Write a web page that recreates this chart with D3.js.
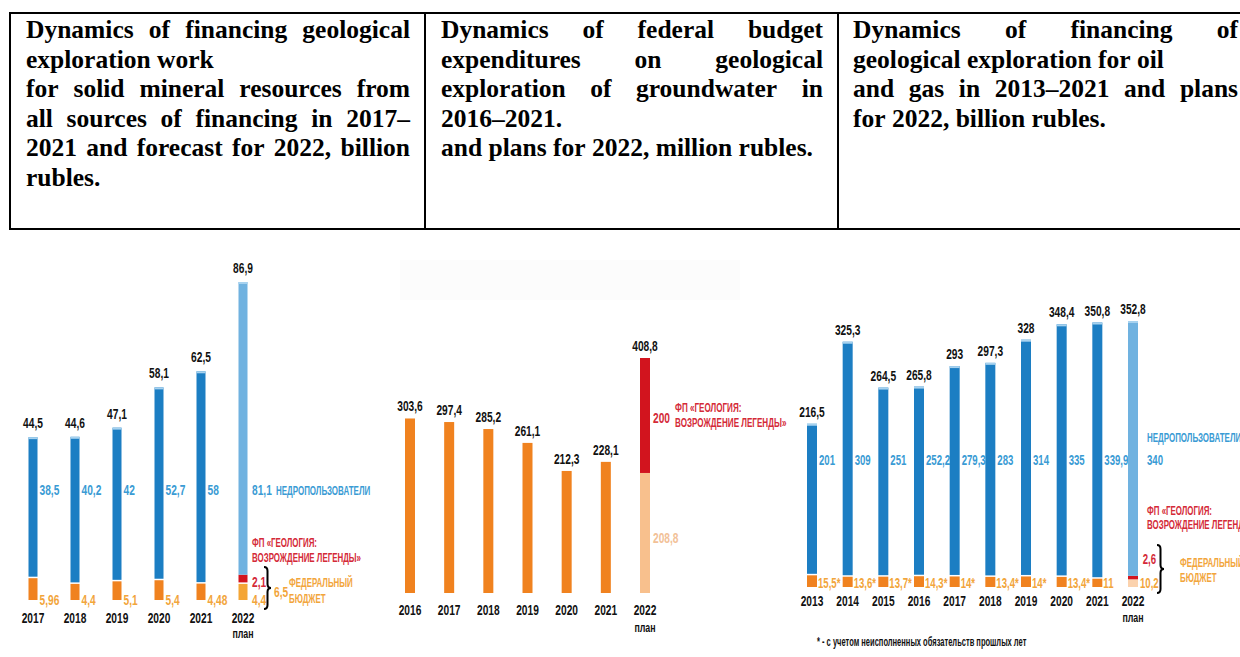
<!DOCTYPE html>
<html><head><meta charset="utf-8">
<script src="https://cdn.jsdelivr.net/npm/d3@7"></script>
<style>
html,body{margin:0;padding:0;background:#fff;}
svg{display:block;}
</style></head>
<body>
<svg id="c" width="1240" height="657"></svg>
<script>
// ---------- DATA ----------
const headerCol1 = ["Dynamics of financing geological","exploration work","for solid mineral resources from","all sources of financing in 2017–","2021 and forecast for 2022, billion","rubles."];
const headerCol2 = ["Dynamics of federal budget","expenditures on geological","exploration of groundwater in","2016–2021.","and plans for 2022, million rubles."];
const headerCol3 = ["Dynamics of financing of","geological exploration for oil","and gas in 2013–2021 and plans","for 2022, billion rubles."];

// Chart 1: solid minerals, billion rubles
const c1Years   = ["2017","2018","2019","2020","2021","2022"];
const c1Users   = [38.5, 40.2, 42, 52.7, 58, 81.1];
const c1Budget  = [5.96, 4.4, 5.1, 5.4, 4.48, 4.4];
const c1FP      = [0, 0, 0, 0, 0, 2.1];
const c1Total   = [44.5, 44.6, 47.1, 58.1, 62.5, 86.9];
const c1UsersLbl  = ["38,5","40,2","42","52,7","58","81,1"];
const c1BudgetLbl = ["5,96","4,4","5,1","5,4","4,48","4,4"];
const c1TotalLbl  = ["44,5","44,6","47,1","58,1","62,5","86,9"];

// Chart 2: groundwater, million rubles
const c2Years  = ["2016","2017","2018","2019","2020","2021","2022"];
const c2Budget = [303.6, 297.4, 285.2, 261.1, 212.3, 228.1, 208.8];
const c2FP     = [0, 0, 0, 0, 0, 0, 200];
const c2Total  = [303.6, 297.4, 285.2, 261.1, 212.3, 228.1, 408.8];
const c2TotalLbl = ["303,6","297,4","285,2","261,1","212,3","228,1","408,8"];
const c2BudgetPlanLbl = "208,8";

// Chart 3: oil and gas, billion rubles
const c3Years  = ["2013","2014","2015","2016","2017","2018","2019","2020","2021","2022"];
const c3Users  = [201, 309, 251, 252.2, 279.3, 283, 314, 335, 339.9, 340];
const c3Budget = [15.5, 13.6, 13.7, 14.3, 14, 13.4, 14, 13.4, 11, 10.2];
const c3FP     = [0, 0, 0, 0, 0, 0, 0, 0, 0, 2.6];
const c3Total  = [216.5, 325.3, 264.5, 265.8, 293, 297.3, 328, 348.4, 350.8, 352.8];
const c3UsersLbl  = ["201","309","251","252,2","279,3","283","314","335","339,9","340"];
const c3BudgetLbl = ["15,5*","13,6*","13,7*","14,3*","14*","13,4*","14*","13,4*","11","10,2"];
const c3TotalLbl  = ["216,5","325,3","264,5","265,8","293","297,3","328","348,4","350,8","352,8"];

const lblUsers = "НЕДРОПОЛЬЗОВАТЕЛИ";
const lblFP1 = "ФП «ГЕОЛОГИЯ:";
const lblFP2 = "ВОЗРОЖДЕНИЕ ЛЕГЕНДЫ»";
const lblFed1 = "ФЕДЕРАЛЬНЫЙ";
const lblFed2 = "БЮДЖЕТ";
const lblPlan = "план";
const lblFedSum1 = "6,5";
const lblFP1val = "2,1", lblFP2val = "200", lblFP3val = "2,6";
const footnote = "* - с учетом неисполненных обязательств прошлых лет";

// ---------- STYLE ----------
const SANS = "'Liberation Sans',Arial,sans-serif";
const SERIF = "'Liberation Serif','Times New Roman',serif";
const C = {
  blue:"#1c7ec3", blueLight:"#70b2e0", blueCap:"#a7d2ef",
  orange:"#f0821f", orange1y:"#f4a535", red:"#d2141e",
  peach:"#f8c08d", peachLight:"#fbd2ad",
  tBlue:"#3a9bd4", tOrange:"#f2a53b", tRed:"#d42a38", tPeach:"#f2c197", black:"#111"
};

const svg = d3.select("#c");

// ---------- HEADER TABLE ----------
const tbl = svg.append("g");
tbl.append("line").attr("x1",10).attr("x2",1240).attr("y1",13).attr("y2",13).attr("stroke","#000").attr("stroke-width",2);
tbl.append("line").attr("x1",10).attr("x2",1240).attr("y1",229).attr("y2",229).attr("stroke","#000").attr("stroke-width",2);
[10,425,838].forEach(x=>tbl.append("line").attr("x1",x).attr("x2",x).attr("y1",12).attr("y2",230).attr("stroke","#000").attr("stroke-width",2));

const measurer = svg.append("text").attr("font-family",SERIF).attr("font-weight","bold").attr("font-size",25.5).attr("x",-1000).attr("y",-1000);
function wWidth(s){ measurer.text(s); return measurer.node().getComputedTextLength(); }
const spaceW = wWidth("a a") - wWidth("aa");

function drawCol(lines, x0, width, justify){
  lines.forEach((ln,i)=>{
    const words = ln.split(" ");
    const ws = words.map(wWidth);
    const sum = d3.sum(ws);
    let gap = spaceW;
    if (justify[i] && words.length>1) gap = (width - sum)/(words.length-1);
    let x = x0;
    const t = tbl.append("text").attr("font-family",SERIF).attr("font-weight","bold").attr("font-size",25.5).attr("fill","#000");
    words.forEach((w,j)=>{
      t.append("tspan").attr("x",x).attr("y",38 + i*29.5).text(w);
      x += ws[j] + gap;
    });
  });
}
drawCol(headerCol1, 26, 384, [true,false,true,true,true,false]);
drawCol(headerCol2, 441, 382, [true,true,true,false,false]);
drawCol(headerCol3, 853, 385, [true,false,true,false]);
measurer.remove();

// ---------- helpers ----------
// condensed bold text: horizontally squeezed Liberation Sans
function txt(g, x, y, s, o={}){
  const sx = o.sx || 0.68;
  return g.append("text").attr("transform",`translate(${x},${y}) scale(${sx},1)`).text(s)
    .attr("font-family",SANS).attr("font-weight","bold")
    .attr("font-size",o.size||15).attr("fill",o.fill||C.black)
    .attr("text-anchor",o.anchor||"start");
}
function brace(g, x, y1, y2, w){
  const ym=(y1+y2)/2, r=4, xm=x+w/2;
  g.append("path").attr("d",
    `M${x},${y1} Q${xm},${y1} ${xm},${y1+r} L${xm},${ym-r} Q${xm},${ym} ${x+w},${ym} Q${xm},${ym} ${xm},${ym+r} L${xm},${y2-r} Q${xm},${y2} ${x},${y2}`)
    .attr("fill","none").attr("stroke","#000").attr("stroke-width",2);
}
function seg(g, x, bw, y0, y1, fill){
  if (y0-y1 <= 0) return;
  g.append("rect").attr("x",x-bw/2).attr("width",bw).attr("y",y1).attr("height",y0-y1).attr("fill",fill);
}
const CAP = {size:13, sx:0.61};
const USERS = {size:13.5, sx:0.59};

// ---------- CHART 1 ----------
{
  const g = svg.append("g");
  const x = d3.scalePoint().domain(c1Years).range([33,243]);
  const y = d3.scaleLinear().domain([0,86.9]).range([600,282]);
  const bw = 9;
  c1Years.forEach((yr,i)=>{
    const cx = x(yr), plan = i===c1Years.length-1;
    const b = c1Budget[i], f = c1FP[i];
    seg(g,cx,bw,y(0),y(b),plan?C.orange1y:C.orange);
    if (f>0) seg(g,cx,bw,y(b)-1.5,y(b+f)-1.5,C.red);
    seg(g,cx,bw,y(b+f)-1.5,y(c1Total[i]),plan?C.blueLight:C.blue);
    g.append("rect").attr("x",cx-bw/2).attr("width",bw).attr("y",y(c1Total[i])).attr("height",2).attr("fill",C.blueCap);
    txt(g,cx,y(c1Total[i])-9,c1TotalLbl[i],{anchor:"middle"});
    txt(g,cx,623,yr,{anchor:"middle"});
    if (!plan){
      txt(g,cx+bw/2+2,495,c1UsersLbl[i],{fill:C.tBlue});
      txt(g,cx+bw/2+2,605,c1BudgetLbl[i],{fill:C.tOrange});
    } else {
      txt(g,cx,638,lblPlan,{size:13,anchor:"middle"});
      txt(g,252,495,c1UsersLbl[i],{fill:C.tBlue});
      txt(g,276,495,lblUsers,{...USERS,fill:C.tBlue});
      txt(g,252,547,lblFP1,{...CAP,fill:C.tRed});
      txt(g,252,562,lblFP2,{...CAP,fill:C.tRed});
      txt(g,252,587,lblFP1val,{fill:C.tRed});
      txt(g,252,605,c1BudgetLbl[i],{fill:C.tOrange});
      brace(g,264,567,609,7);
      txt(g,274,597,lblFedSum1,{fill:C.tOrange});
      txt(g,289,587,lblFed1,{...CAP,fill:C.tOrange});
      txt(g,289,603,lblFed2,{...CAP,fill:C.tOrange});
    }
  });
}

// ---------- CHART 2 ----------
{
  const g = svg.append("g");
  g.append("rect").attr("x",400).attr("y",260).attr("width",340).attr("height",40).attr("fill","#fcfcfc");
  const x = d3.scalePoint().domain(c2Years).range([410,645]);
  const y = d3.scaleLinear().domain([0,408.8]).range([593,358]);
  const bw = 10;
  c2Years.forEach((yr,i)=>{
    const cx = x(yr), plan = i===c2Years.length-1;
    const b = c2Budget[i], f = c2FP[i];
    seg(g,cx,bw,y(0),y(b),plan?C.peach:C.orange);
    if (f>0) seg(g,cx,bw,y(b),y(b+f),C.red);
    txt(g,cx,y(c2Total[i])-7,c2TotalLbl[i],{anchor:"middle"});
    txt(g,cx,615,yr,{anchor:"middle"});
    if (plan){
      txt(g,cx,632,lblPlan,{size:13,anchor:"middle"});
      txt(g,653,423,lblFP2val,{fill:C.tRed});
      txt(g,675,412,lblFP1,{size:13.5,sx:0.6,fill:C.tRed});
      txt(g,675,427,lblFP2,{size:13.5,sx:0.6,fill:C.tRed});
      txt(g,653,543,c2BudgetPlanLbl,{fill:C.tPeach});
    }
  });
}

// ---------- CHART 3 ----------
{
  const g = svg.append("g");
  const x = d3.scalePoint().domain(c3Years).range([812,1133]);
  const y = d3.scaleLinear().domain([0,352.8]).range([587,321]);
  const bw = 10;
  c3Years.forEach((yr,i)=>{
    const cx = x(yr), plan = i===c3Years.length-1;
    const b = c3Budget[i], f = c3FP[i];
    seg(g,cx,bw,y(0),y(b),plan?C.peachLight:C.orange);
    if (f>0) seg(g,cx,bw,y(b),y(b+f)-1.5,C.red);
    seg(g,cx,bw,y(b+f)-1.5,y(c3Total[i]),plan?C.blueLight:C.blue);
    g.append("rect").attr("x",cx-bw/2).attr("width",bw).attr("y",y(c3Total[i])).attr("height",2).attr("fill",C.blueCap);
    txt(g,cx,y(c3Total[i])-7,c3TotalLbl[i],{anchor:"middle"});
    txt(g,cx,606,yr,{anchor:"middle"});
    if (!plan){
      txt(g,cx+bw/2+2,465,c3UsersLbl[i],{fill:C.tBlue,sx:0.64});
      txt(g,cx+bw/2+1,588,c3BudgetLbl[i],{fill:C.tOrange,sx:0.64});
    } else {
      txt(g,cx,622,lblPlan,{size:13,anchor:"middle"});
      txt(g,1147,442,lblUsers,{...USERS,fill:C.tBlue});
      txt(g,1147,465,c3UsersLbl[i],{fill:C.tBlue,sx:0.64});
      txt(g,1147,515,lblFP1,{...CAP,fill:C.tRed});
      txt(g,1147,529,lblFP2,{...CAP,fill:C.tRed});
      txt(g,1156,564,lblFP3val,{fill:C.tRed,anchor:"end",sx:0.64});
      txt(g,1140,588,c3BudgetLbl[i],{fill:C.tOrange,sx:0.64});
      brace(g,1157,545,593,7);
      txt(g,1180,567,lblFed1,{...CAP,fill:C.tOrange});
      txt(g,1180,582,lblFed2,{...CAP,fill:C.tOrange});
    }
  });
  txt(g,817,646,footnote,{size:13,sx:0.58});
}
</script>
</body></html>
